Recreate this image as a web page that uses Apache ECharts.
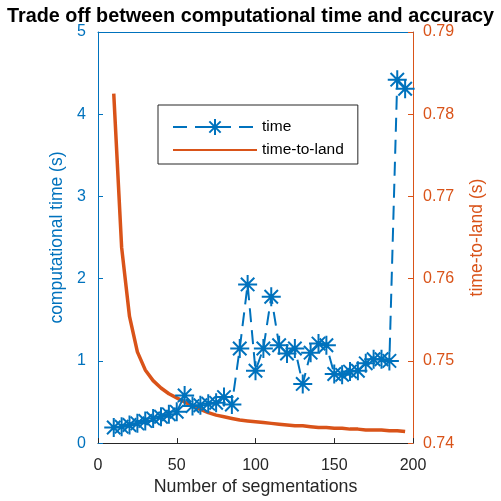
<!DOCTYPE html>
<html>
<head>
<meta charset="utf-8">
<script src="https://cdn.jsdelivr.net/npm/echarts@6/dist/echarts.min.js"></script>
<style>
  html, body { margin: 0; padding: 0; background: #fff; }
  #chart { width: 501px; height: 501px; }
</style>
</head>
<body>
<div id="chart"></div>
<script>
// Number of segmentations used for each run
const segments = [10, 15, 20, 25, 30, 35, 40, 45, 50, 55, 60, 65, 70, 75, 80, 85, 90, 95, 100,
  105, 110, 115, 120, 125, 130, 135, 140, 145, 150, 155, 160, 165, 170, 175, 180, 185, 190, 195];

// Computational time (s)
const timeValues = [0.19, 0.20, 0.22, 0.24, 0.27, 0.30, 0.32, 0.35, 0.38, 0.58, 0.45, 0.46, 0.48,
  0.49, 0.56, 0.47, 1.15, 1.93, 0.88, 1.15, 1.78, 1.19, 1.09, 1.15, 0.72, 1.10, 1.21, 1.19,
  0.84, 0.83, 0.87, 0.88, 0.97, 1.02, 1.02, 1.00, 4.42, 4.31];

// Resulting time-to-land (s)
const landValues = [0.7825, 0.7638, 0.7554, 0.7511, 0.7489, 0.7476, 0.7467, 0.7460, 0.7455,
  0.7450, 0.7445, 0.7441, 0.7437, 0.7434, 0.7432, 0.7430, 0.7428, 0.7427, 0.7426, 0.7425,
  0.7424, 0.7423, 0.7422, 0.7421, 0.7421, 0.7420, 0.7419, 0.7419, 0.7418, 0.7418, 0.7417,
  0.7417, 0.7416, 0.7416, 0.7416, 0.7415, 0.7415, 0.7414];

const xTicks = [0, 50, 100, 150, 200];
const leftTicks = [0, 1, 2, 3, 4, 5];
const rightTicks = [0.74, 0.75, 0.76, 0.77, 0.78, 0.79];

const BLUE = '#0072BD';
const ORANGE = '#D95319';
const DARK = '#262626';
const FONT = '"Liberation Sans", Arial, Helvetica, sans-serif';

// Asterisk marker: vertical, horizontal and both diagonals
const STAR = 'path://M0,-10L0,10M-10,0L10,0M-7.07,-7.07L7.07,7.07M-7.07,7.07L7.07,-7.07';

const chart = echarts.init(document.getElementById('chart'), null, { renderer: 'canvas' });

chart.setOption({
  backgroundColor: '#ffffff',
  animation: false,
  textStyle: { fontFamily: FONT },
  title: {
    text: 'Trade off between computational time and accuracy',
    left: 'center',
    top: 2,
    textStyle: { fontFamily: FONT, fontSize: 19.8, fontWeight: 'bold', color: '#000' }
  },
  legend: {
    orient: 'vertical',
    left: 158,
    top: 105,
    width: 196,
    padding: [13, 14, 6, 14],
    itemGap: 6,
    itemWidth: 84,
    itemHeight: 20,
    backgroundColor: '#fff',
    borderColor: DARK,
    borderWidth: 1,
    borderRadius: 0,
    textStyle: { fontFamily: FONT, fontSize: 15.5, color: '#000' },
    data: [
      { name: 'time' },
      { name: 'time-to-land', itemStyle: { opacity: 0 } }
    ]
  },
  grid: { left: 98, right: 88, top: 32, bottom: 50, containLabel: false },
  xAxis: [{
    type: 'value',
    min: xTicks[0],
    max: xTicks[xTicks.length - 1],
    interval: xTicks[1] - xTicks[0],
    name: 'Number of segmentations',
    nameLocation: 'middle',
    nameGap: 34,
    nameTextStyle: { fontFamily: FONT, fontSize: 17.8, color: DARK },
    axisLine: { show: true, onZero: false, lineStyle: { color: DARK, width: 1 } },
    axisTick: { show: true, inside: true, length: 5, lineStyle: { color: DARK } },
    axisLabel: { fontFamily: FONT, fontSize: 16, color: DARK, margin: 14 },
    splitLine: { show: false }
  }, {
    type: 'value',
    position: 'top',
    min: xTicks[0],
    max: xTicks[xTicks.length - 1],
    interval: xTicks[1] - xTicks[0],
    axisLine: { show: true, onZero: false, lineStyle: { color: BLUE, width: 1 } },
    axisTick: { show: false },
    axisLabel: { show: false },
    splitLine: { show: false }
  }],
  yAxis: [{
    type: 'value',
    position: 'left',
    min: leftTicks[0],
    max: leftTicks[leftTicks.length - 1],
    interval: leftTicks[1] - leftTicks[0],
    name: 'computational time (s)',
    nameLocation: 'middle',
    nameGap: 29,
    nameRotate: 90,
    nameTextStyle: { fontFamily: FONT, fontSize: 17.5, color: BLUE },
    axisLine: { show: true, onZero: false, lineStyle: { color: BLUE, width: 1 } },
    axisTick: { show: true, inside: true, length: 5, lineStyle: { color: BLUE } },
    axisLabel: { fontFamily: FONT, fontSize: 16, color: BLUE, margin: 12 },
    splitLine: { show: false }
  }, {
    type: 'value',
    position: 'right',
    min: rightTicks[0],
    max: rightTicks[rightTicks.length - 1],
    interval: 0.01,
    name: 'time-to-land (s)',
    nameLocation: 'middle',
    nameGap: 55,
    nameRotate: 90,
    nameTextStyle: { fontFamily: FONT, fontSize: 17.5, color: ORANGE },
    axisLine: { show: true, onZero: false, lineStyle: { color: ORANGE, width: 1 } },
    axisTick: { show: true, inside: true, length: 5, lineStyle: { color: ORANGE } },
    axisLabel: {
      fontFamily: FONT, fontSize: 16, color: ORANGE, margin: 10,
      formatter: v => v.toFixed(2)
    },
    splitLine: { show: false }
  }],
  series: [{
    name: 'time',
    type: 'line',
    xAxisIndex: 0,
    yAxisIndex: 0,
    data: segments.map((s, i) => [s, timeValues[i]]),
    symbol: STAR,
    symbolSize: 19,
    symbolKeepAspect: true,
    showAllSymbol: true,
    lineStyle: { color: BLUE, width: 2, type: [14, 8] },
    itemStyle: { color: BLUE, borderColor: BLUE, borderWidth: 2 },
    emphasis: { disabled: true },
    z: 3
  }, {
    name: 'time-to-land',
    type: 'line',
    xAxisIndex: 0,
    yAxisIndex: 1,
    data: segments.map((s, i) => [s, landValues[i]]),
    symbol: 'none',
    lineStyle: { color: ORANGE, width: 3.5 },
    itemStyle: { color: ORANGE },
    emphasis: { disabled: true },
    z: 2
  }]
});
</script>
</body>
</html>
